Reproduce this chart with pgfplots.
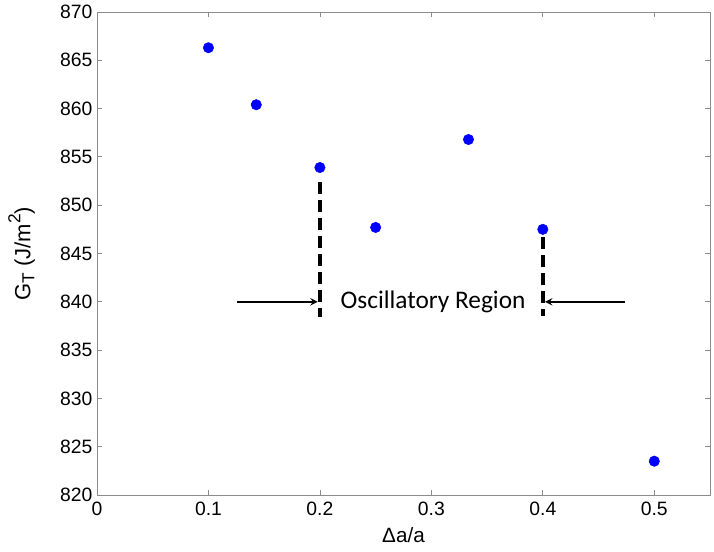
\documentclass[border=0pt]{standalone}
\usepackage{fontspec}
\setmainfont{Liberation Sans}
\newfontfamily\calibri{Carlito}
\usepackage{pgfplots}
\pgfplotsset{compat=1.18}
\newcommand{\mysub}[1]{\raisebox{-0.35ex}{\fontsize{13pt}{13pt}\selectfont #1}}
\newcommand{\mysup}[1]{\raisebox{0.85ex}{\fontsize{13pt}{13pt}\selectfont #1}}
\begin{document}
\begin{tikzpicture}[x=1pt,y=1pt]
\begin{axis}[
  scale only axis,
  width=459.75pt, height=362.25pt,
  xmin=0, xmax=0.55, ymin=820, ymax=870,
  xtick={0,0.1,0.2,0.3,0.4,0.5},
  ytick={820,825,...,870},
  /pgf/number format/assume math mode=true,
  xticklabel style={font=\fontsize{14.5pt}{16pt}\selectfont, yshift=-2pt},
  yticklabel style={font=\fontsize{14.5pt}{16pt}\selectfont},
  axis line style={draw=gray!90},
  tick style={draw=gray!90, line width=0.6pt},
  tick align=inside,
  major tick length=4pt,
  xlabel={Δa/a},
  ylabel={G\mysub{T} (J/m\mysup{2})},
  xlabel style={font=\fontsize{15.5pt}{17pt}\selectfont},
  ylabel style={font=\fontsize{16.5pt}{18pt}\selectfont},
  ylabel shift=12pt,
  xlabel shift=2pt,
  xticklabel style={/pgf/number format/fixed},
  yticklabel style={/pgf/number format/.cd, fixed, 1000 sep={}},
  scaled x ticks=false,
]
\addplot[only marks, mark=*, mark size=3.9pt, color=blue, mark options={fill=blue, draw=blue}]
coordinates {
(0.1,866.3) (0.1429,860.4) (0.2,853.9) (0.25,847.7) (0.3333,856.8) (0.4,847.5) (0.5,823.5)
};
\addplot[black, line width=3pt, dash pattern=on 9pt off 4.5pt] coordinates {(0.2,852.4) (0.2,838.4)};
\addplot[black, line width=3pt, dash pattern=on 9pt off 4.5pt] coordinates {(0.4,846.7) (0.4,838.5)};
\addplot[black, line width=1.4pt, -stealth] coordinates {(0.1257,840) (0.198,840)};
\addplot[black, line width=1.4pt, -stealth] coordinates {(0.474,840) (0.402,840)};
\node[font=\calibri\fontsize{19pt}{21pt}\selectfont, anchor=center] at (axis cs:0.3015,840) {Oscillatory Region};
\end{axis}
\path[use as bounding box] (current axis.south west) ++(-72.75pt,-42.75pt) rectangle ([xshift=3pt,yshift=9pt]current axis.north east);
\end{tikzpicture}
\end{document}
